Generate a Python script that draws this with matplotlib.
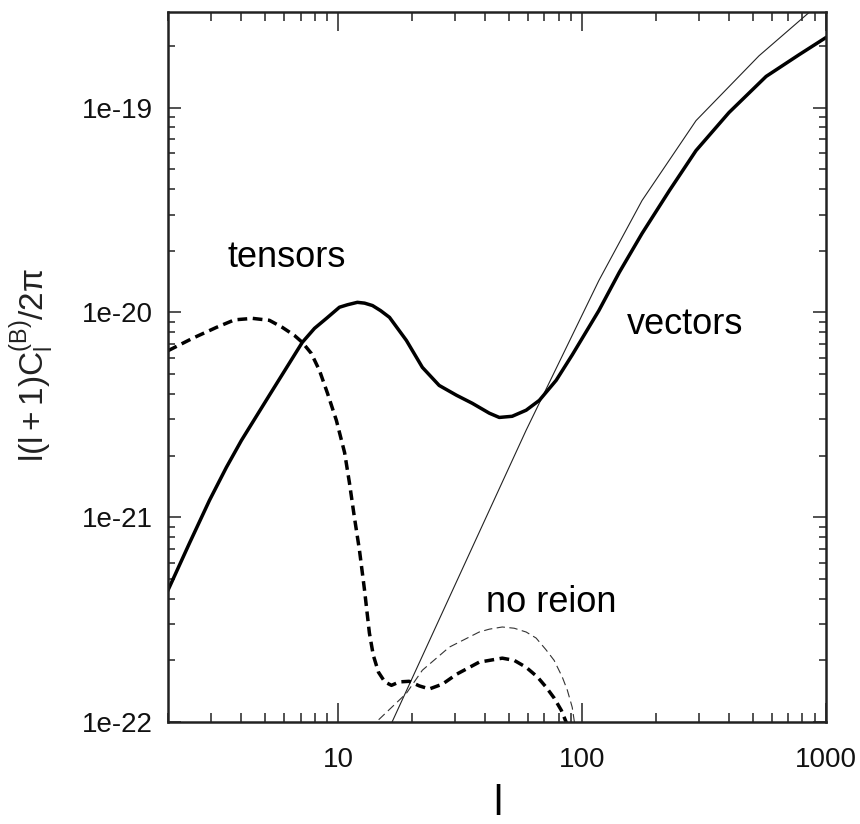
import matplotlib
matplotlib.use("Agg")
import matplotlib.pyplot as plt
from matplotlib.ticker import LogLocator, NullFormatter, FixedLocator, FixedFormatter

# ---------------- data ----------------
# vectors, with reionization (thick solid)
vec_l = [2.0, 2.45, 2.96, 3.47, 4.0, 5.21, 7.11, 7.98, 8.93, 10.1, 10.9, 11.96, 12.8, 13.8,
         14.9, 16.2, 19.0, 22.1, 25.9, 30.5, 35.4, 41.6, 45.7, 51.6, 58.9, 66.7, 78.2,
         91.0, 117, 142, 176, 228, 293, 400, 568, 774, 1000]
vec_cl = [4.4e-22, 7.47e-22, 1.21e-21, 1.75e-21, 2.37e-21, 3.94e-21, 7.14e-21, 8.36e-21,
          9.35e-21, 1.06e-20, 1.09e-20, 1.12e-20, 1.11e-20, 1.08e-20, 1.02e-20, 9.46e-21,
          7.3e-21, 5.39e-21, 4.4e-21, 3.94e-21, 3.6e-21, 3.22e-21, 3.07e-21, 3.11e-21,
          3.33e-21, 3.72e-21, 4.66e-21, 6.2e-21, 1.02e-20, 1.57e-20, 2.43e-20, 3.94e-20,
          6.17e-20, 9.46e-20, 1.42e-19, 1.81e-19, 2.2e-19]

# vectors, no reionization (thin solid)
vec_nr_l = [15.0, 16.6, 33.5, 58.9, 117, 176, 293, 531, 851, 1000]
vec_nr_cl = [7.7e-23, 1.0e-22, 6.17e-22, 2.66e-21, 1.43e-20, 3.52e-20, 8.64e-20,
             1.79e-19, 2.91e-19, 3.3e-19]

# tensors, with reionization (thick dashed)
ten_l = [2.0, 2.52, 3.16, 3.75, 4.45, 5.21, 5.89, 6.6, 7.11, 7.74, 8.36, 9.02, 9.81,
         10.6, 11.1, 11.6, 12.2, 12.8, 13.4, 13.9, 14.6, 15.5, 16.5, 17.8, 19.5, 21.5,
         23.6, 26.7, 30.5, 37.8, 47.0, 52.6, 58.9, 65.5, 71.1, 76.7, 82.1, 85.9, 92.7]
ten_cl = [6.5e-21, 7.47e-21, 8.45e-21, 9.2e-21, 9.35e-21, 9.15e-21, 8.45e-21, 7.72e-21,
          7.14e-21, 6.31e-21, 5.21e-21, 4.03e-21, 2.97e-21, 2.07e-21, 1.47e-21, 1.02e-21,
          6.9e-22, 4.4e-22, 2.72e-22, 2.12e-22, 1.75e-22, 1.57e-22, 1.51e-22, 1.57e-22,
          1.58e-22, 1.5e-22, 1.45e-22, 1.53e-22, 1.71e-22, 1.96e-22, 2.05e-22, 2.0e-22,
          1.85e-22, 1.66e-22, 1.48e-22, 1.31e-22, 1.14e-22, 1.0e-22, 7.7e-23]

# tensors, no reionization (thin dashed)
ten_nr_l = [13.0, 14.3, 19.0, 22.1, 28.5, 37.8, 41.6, 47.0, 52.6, 58.9, 64.7, 71.1, 76.7,
            82.8, 86.9, 91.0, 95.5]
ten_nr_cl = [8.0e-23, 1.0e-22, 1.38e-22, 1.79e-22, 2.32e-22, 2.75e-22, 2.84e-22, 2.91e-22,
             2.87e-22, 2.75e-22, 2.57e-22, 2.25e-22, 2.0e-22, 1.66e-22, 1.43e-22, 1.18e-22,
             8.0e-23]

x_ticks = [10, 100, 1000]
x_ticklabels = ["10", "100", "1000"]
y_ticks = [1e-22, 1e-21, 1e-20, 1e-19]
y_ticklabels = ["1e-22", "1e-21", "1e-20", "1e-19"]

# ---------------- fonts ----------------
font = "Liberation Sans"
plt.rcParams["lines.scale_dashes"] = False
plt.rcParams["mathtext.fontset"] = "custom"
plt.rcParams["mathtext.rm"] = font
plt.rcParams["mathtext.it"] = font
plt.rcParams["mathtext.sf"] = font

# ---------------- figure ----------------
W, H = 860, 824
fig = plt.figure(figsize=(W / 100, H / 100), dpi=100)
ax_left, ax_right, ax_top, ax_bottom = 168, 826, 12, 722
ax = fig.add_axes([ax_left / W, 1 - ax_bottom / H, (ax_right - ax_left) / W,
                   (ax_bottom - ax_top) / H])

ax.set_xscale("log")
ax.set_yscale("log")

ax.plot(vec_nr_l, vec_nr_cl, color="#222222", lw=0.8)
ax.plot(ten_nr_l, ten_nr_cl, color="#333333", lw=0.8, dashes=(6, 3.2))
ax.plot(ten_l, ten_cl, color="black", lw=2.5, dashes=(7, 4), solid_joinstyle="round")
ax.plot(vec_l, vec_cl, color="black", lw=2.5, solid_joinstyle="round")

ax.set_xlim(2, 1000)
ax.set_ylim(1e-22, 2.93e-19)

ax.xaxis.set_major_locator(FixedLocator(x_ticks))
ax.xaxis.set_major_formatter(FixedFormatter(x_ticklabels))
ax.xaxis.set_minor_locator(LogLocator(base=10, subs=range(2, 10), numticks=20))
ax.xaxis.set_minor_formatter(NullFormatter())
ax.yaxis.set_major_locator(FixedLocator(y_ticks))
ax.yaxis.set_major_formatter(FixedFormatter(y_ticklabels))
ax.yaxis.set_minor_locator(LogLocator(base=10, subs=range(2, 10), numticks=20))
ax.yaxis.set_minor_formatter(NullFormatter())

ax.tick_params(axis="both", which="both", direction="in", top=True, right=True,
               width=1.1, color="#222222")
ax.tick_params(axis="x", which="major", length=14, pad=18)
ax.tick_params(axis="x", which="minor", length=6.5)
ax.tick_params(axis="y", which="major", length=9.5, pad=11)
ax.tick_params(axis="y", which="minor", length=5)
for lab in ax.get_xticklabels() + ax.get_yticklabels():
    lab.set_fontfamily(font)
    lab.set_fontsize(20)
    lab.set_color("#111111")

for s in ax.spines.values():
    s.set_linewidth(1.8)
    s.set_color("#222222")

# annotations
ax.text((227 - ax_left) / 658, (ax_bottom - 267) / 710, "tensors", transform=ax.transAxes,
        fontsize=26, family=font, ha="left", va="baseline")
ax.text((627 - ax_left) / 658, (ax_bottom - 334) / 710, "vectors", transform=ax.transAxes,
        fontsize=26, family=font, ha="left", va="baseline")
ax.text((486 - ax_left) / 658, (ax_bottom - 612) / 710, "no reion", transform=ax.transAxes,
        fontsize=26, family=font, ha="left", va="baseline")

# axis labels
fig.text(498 / W, 1 - 815 / H, "l", fontsize=30, family=font, ha="center",
         va="baseline")
fig.text(32 / W, 1 - 365 / H, r"$\mathrm{l(l+1)C_l^{(B)}/2\pi}$", fontsize=24,
         rotation=90, ha="center", va="center", color="#222222")

fig.savefig("out.png", dpi=100)
